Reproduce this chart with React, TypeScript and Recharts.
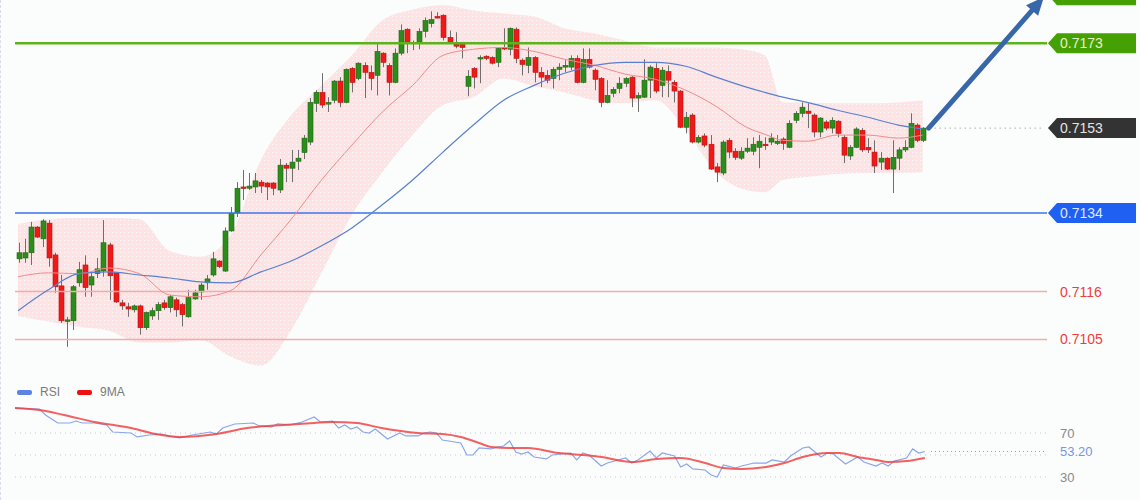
import React from "react";
import { Area, Bar, ComposedChart, Line, ReferenceLine, XAxis, YAxis } from "recharts";

// OHLC candles, oldest first
const candleOpen = [
  0.71235, 0.71237, 0.71249, 0.71308, 0.71281, 0.71317, 0.71244, 0.71173, 0.71093, 0.71093,
  0.7118, 0.71221, 0.71175, 0.71201, 0.71207, 0.71267, 0.71203, 0.71134, 0.71125, 0.71118,
  0.71127, 0.71077, 0.71104, 0.71116, 0.71134, 0.71123, 0.71141, 0.7113, 0.71102, 0.71143,
  0.71159, 0.7118, 0.71198, 0.7123, 0.71207, 0.71299, 0.7134, 0.714, 0.71397, 0.714,
  0.71411, 0.71409, 0.71409, 0.71393, 0.7145, 0.71443, 0.71459, 0.71479, 0.71503, 0.71592,
  0.71617, 0.7159, 0.71599, 0.71643, 0.71594, 0.71672, 0.71649, 0.71679, 0.71663, 0.71656,
  0.71707, 0.71679, 0.7164, 0.71707, 0.71762, 0.71732, 0.7173, 0.71757, 0.71775, 0.71791,
  0.71794, 0.71743, 0.7173, 0.71727, 0.71631, 0.71672, 0.71695, 0.717, 0.71697, 0.71686,
  0.7172, 0.71716, 0.71762, 0.71691, 0.71679, 0.71697, 0.71663, 0.71656, 0.71649, 0.7167,
  0.71675, 0.71675, 0.71695, 0.7164, 0.71693, 0.71668, 0.71649, 0.71594, 0.71615, 0.71626,
  0.71638, 0.71652, 0.71604, 0.71606, 0.71645, 0.71672, 0.71633, 0.71665, 0.7164, 0.7162,
  0.71537, 0.71565, 0.71503, 0.71517, 0.71498, 0.71446, 0.71432, 0.71507, 0.71482, 0.71466,
  0.71482, 0.71482, 0.71491, 0.71498, 0.71503, 0.715, 0.7151, 0.71491, 0.71553, 0.71569,
  0.71574, 0.71565, 0.71526, 0.71549, 0.71535, 0.71551, 0.71514, 0.71471, 0.71491, 0.7153,
  0.71491, 0.7148, 0.71457, 0.71466, 0.71441, 0.71466, 0.71485, 0.71491, 0.71542, 0.71507,
];
const candleHigh = [
  0.71272, 0.71281, 0.7132, 0.7131, 0.71326, 0.71324, 0.71249, 0.71198, 0.71102, 0.71175,
  0.71228, 0.71243, 0.71203, 0.71237, 0.71324, 0.71272, 0.71205, 0.71141, 0.71134, 0.7113,
  0.7113, 0.71114, 0.71123, 0.71136, 0.71141, 0.71152, 0.71146, 0.71134, 0.71164, 0.71164,
  0.7118, 0.71198, 0.71251, 0.71232, 0.71307, 0.71354, 0.71411, 0.71439, 0.71432, 0.71432,
  0.71416, 0.71411, 0.71411, 0.71464, 0.71455, 0.71485, 0.71485, 0.71519, 0.71604, 0.71622,
  0.71661, 0.71606, 0.71645, 0.71652, 0.71672, 0.71675, 0.71686, 0.71686, 0.71679, 0.7173,
  0.71709, 0.71684, 0.71718, 0.71773, 0.71764, 0.71736, 0.71764, 0.71789, 0.71803, 0.71801,
  0.71796, 0.71759, 0.71755, 0.71732, 0.71668, 0.71675, 0.71702, 0.71702, 0.717, 0.7172,
  0.71764, 0.71766, 0.71766, 0.71695, 0.7172, 0.717, 0.71675, 0.71668, 0.71675, 0.71684,
  0.71691, 0.71702, 0.71702, 0.71718, 0.71718, 0.71672, 0.71652, 0.71645, 0.71629, 0.71652,
  0.71652, 0.71654, 0.71617, 0.71693, 0.71679, 0.71684, 0.71675, 0.71679, 0.71645, 0.71622,
  0.71572, 0.71569, 0.71519, 0.71523, 0.71519, 0.71455, 0.71507, 0.71512, 0.71489, 0.71491,
  0.71512, 0.71514, 0.71519, 0.71514, 0.71523, 0.71519, 0.71514, 0.71553, 0.71574, 0.71594,
  0.71592, 0.71569, 0.7156, 0.71553, 0.7156, 0.71553, 0.71519, 0.71496, 0.71537, 0.71535,
  0.71512, 0.71507, 0.7148, 0.71468, 0.71507, 0.71491, 0.71507, 0.71569, 0.71546, 0.71537,
];
const candleLow = [
  0.71226, 0.71226, 0.71221, 0.71283, 0.71262, 0.71217, 0.71157, 0.71088, 0.71033, 0.71072,
  0.71171, 0.71148, 0.71148, 0.71191, 0.71194, 0.71141, 0.71134, 0.71118, 0.71102, 0.71112,
  0.71061, 0.71072, 0.71095, 0.71095, 0.71118, 0.71112, 0.71102, 0.7108, 0.711, 0.71141,
  0.71141, 0.71164, 0.71194, 0.71214, 0.71205, 0.71297, 0.71331, 0.7137, 0.71393, 0.71386,
  0.71386, 0.7137, 0.71381, 0.71386, 0.71411, 0.71411, 0.71439, 0.71464, 0.71496, 0.71572,
  0.71581, 0.71572, 0.71592, 0.71583, 0.71592, 0.71617, 0.71645, 0.71604, 0.71622, 0.7161,
  0.71675, 0.7161, 0.71638, 0.71702, 0.71707, 0.71714, 0.71716, 0.71743, 0.71766, 0.71787,
  0.71736, 0.7173, 0.71718, 0.71695, 0.71608, 0.71626, 0.71638, 0.71691, 0.71681, 0.71675,
  0.71714, 0.71702, 0.71684, 0.71656, 0.71661, 0.7164, 0.71629, 0.71638, 0.71626, 0.71645,
  0.71663, 0.71668, 0.71638, 0.71638, 0.71672, 0.71622, 0.71583, 0.71592, 0.71606, 0.71615,
  0.71629, 0.71583, 0.71572, 0.71604, 0.71604, 0.71615, 0.71606, 0.71606, 0.71594, 0.71535,
  0.71523, 0.715, 0.715, 0.71491, 0.71439, 0.71411, 0.71427, 0.71466, 0.71462, 0.71462,
  0.71478, 0.71473, 0.71443, 0.71485, 0.71496, 0.71496, 0.71485, 0.71489, 0.71546, 0.7156,
  0.71535, 0.71514, 0.71514, 0.7153, 0.71523, 0.71514, 0.71455, 0.71462, 0.71489, 0.7148,
  0.71478, 0.71432, 0.71439, 0.71439, 0.71386, 0.71439, 0.7148, 0.71489, 0.71503, 0.71503,
];
const candleClose = [
  0.71249, 0.71249, 0.71308, 0.71285, 0.71322, 0.71237, 0.71171, 0.71093, 0.71095, 0.71171,
  0.7121, 0.71169, 0.71194, 0.71212, 0.71272, 0.71196, 0.71136, 0.71127, 0.7112, 0.71127,
  0.71077, 0.71112, 0.71116, 0.7113, 0.71123, 0.71148, 0.71118, 0.71107, 0.71146, 0.71157,
  0.71175, 0.71189, 0.71235, 0.71217, 0.71299, 0.7134, 0.71397, 0.71397, 0.71402, 0.71414,
  0.71402, 0.714, 0.71397, 0.7145, 0.71443, 0.71457, 0.71466, 0.71512, 0.71594, 0.71617,
  0.71588, 0.71594, 0.71643, 0.71594, 0.7167, 0.7164, 0.71684, 0.71663, 0.71649, 0.71711,
  0.71686, 0.7164, 0.71707, 0.71759, 0.7173, 0.7173, 0.71757, 0.71782, 0.71784, 0.71789,
  0.71743, 0.71732, 0.71723, 0.7172, 0.71654, 0.71652, 0.71697, 0.71695, 0.71684, 0.71718,
  0.71718, 0.71764, 0.71695, 0.71681, 0.71697, 0.71663, 0.71652, 0.71645, 0.7167, 0.71675,
  0.71679, 0.71695, 0.7164, 0.71693, 0.71675, 0.71647, 0.71594, 0.7161, 0.71624, 0.71638,
  0.71649, 0.71604, 0.7161, 0.71645, 0.71675, 0.7162, 0.71668, 0.71645, 0.7162, 0.71537,
  0.7156, 0.71503, 0.71514, 0.71496, 0.71441, 0.71434, 0.71503, 0.7148, 0.71468, 0.71482,
  0.71489, 0.71498, 0.71505, 0.71496, 0.71512, 0.71505, 0.715, 0.71546, 0.71569, 0.71583,
  0.71569, 0.71526, 0.71558, 0.71535, 0.71553, 0.71523, 0.71473, 0.71491, 0.71533, 0.71485,
  0.71485, 0.71448, 0.71466, 0.71441, 0.71468, 0.71485, 0.71491, 0.71546, 0.71507, 0.71535,
];

// bollinger band and moving averages, read at these candle positions
const overlayIdx = [0, 5, 10, 15, 20, 25, 30, 35, 40, 45, 50, 55, 60, 65, 70, 75, 80, 85, 90, 95, 100, 105, 110, 115, 120, 123, 126, 130, 135, 140, 145, 149];
const bbUpper = [
  0.71315, 0.71326, 0.71329, 0.71329, 0.71326, 0.71253, 0.7124, 0.7129, 0.71462, 0.71565, 0.71633,
  0.71702, 0.71782, 0.71807, 0.71817, 0.71805, 0.71798, 0.71791, 0.71764, 0.71752, 0.71736, 0.7172,
  0.7172, 0.7172, 0.71714, 0.71702, 0.71594, 0.71594, 0.71592, 0.71592, 0.71594, 0.71599,
];
const bbLower = [
  0.71104, 0.71091, 0.71079, 0.7107, 0.71043, 0.71043, 0.71049, 0.71011, 0.7099, 0.71072, 0.71203,
  0.71336, 0.71434, 0.71519, 0.71588, 0.71606, 0.71649, 0.71631, 0.71617, 0.71599, 0.71592, 0.71599,
  0.7153, 0.71434, 0.71393, 0.71388, 0.71416, 0.71423, 0.7143, 0.71432, 0.71432, 0.71434,
];
const maFast = [
  0.71194, 0.71203, 0.71201, 0.71214, 0.71201, 0.71152, 0.71148, 0.71162, 0.71244, 0.71326, 0.71416,
  0.71496, 0.71572, 0.71633, 0.71702, 0.71716, 0.7172, 0.71711, 0.71693, 0.71679, 0.71659, 0.71647,
  0.71622, 0.71585, 0.71537, 0.71521, 0.71507, 0.71505, 0.71519, 0.71519, 0.71512, 0.71519,
];
const maSlow = [
  0.71116, 0.71164, 0.71201, 0.71205, 0.71198, 0.71191, 0.71182, 0.7118, 0.71205, 0.7123, 0.71265,
  0.71306, 0.71359, 0.71416, 0.7148, 0.71542, 0.71599, 0.71633, 0.71661, 0.71679, 0.71686, 0.71686,
  0.71677, 0.71652, 0.71629, 0.71617, 0.71606, 0.71594, 0.71576, 0.7156, 0.71542, 0.71533,
];

// RSI panel
const rsiIdx = [
  0, 4, 5, 7, 9, 10, 11, 13, 15, 16, 19, 20, 22, 24, 26, 27, 29, 31, 32, 33, 34, 36, 39, 40, 42, 43, 45, 47, 49, 50,
  52, 53, 54, 55, 56, 57, 58, 59, 61, 63, 64, 66, 67, 68, 69, 70, 72, 73, 74, 75, 76, 78, 79, 80, 81, 82, 83, 84, 85, 87,
  88, 91, 92, 93, 94, 96, 97, 100, 101, 102, 104, 105, 106, 108, 109, 110, 111, 113, 114, 115, 116, 118, 119, 121, 123, 124, 126, 127, 129, 130,
  131, 132, 133, 134, 136, 138, 139, 141, 142, 143, 144, 146, 147, 148, 149,
];
const rsiVal = [
  92.7, 91.8, 86.4, 79.1, 79.1, 80.9, 79.1, 79.1, 77.3, 70.9, 70.0, 66.4, 68.2, 69.1, 66.4, 65.5, 68.2, 70.0, 70.9, 69.1, 74.5, 78.2, 79.1, 76.4, 75.5, 78.2, 77.3, 80.0, 84.5, 80.0,
  80.9, 74.5, 77.3, 73.6, 75.5, 70.9, 70.0, 73.6, 64.5, 70.0, 67.3, 67.3, 70.0, 70.9, 70.0, 63.6, 61.8, 60.9, 50.0, 50.0, 56.4, 55.5, 57.3, 58.2, 62.7, 52.7, 50.9, 52.7, 48.2, 46.4,
  50.0, 51.8, 45.5, 51.8, 50.0, 40.0, 42.7, 47.3, 42.7, 45.5, 53.6, 47.3, 51.8, 49.1, 39.1, 41.8, 37.3, 36.4, 31.8, 30.0, 40.9, 38.2, 40.0, 42.7, 42.7, 45.5, 43.6, 49.1, 56.4, 57.3,
  52.7, 48.2, 51.8, 50.9, 41.8, 48.2, 43.6, 40.0, 42.7, 40.0, 44.5, 47.3, 55.5, 51.8, 53.2,
];
const ma9Idx = [0, 4, 8, 13, 19, 23, 27, 33, 38, 44, 49, 52, 56, 60, 66, 70, 73, 76, 78, 81, 84, 89, 93, 96, 101, 105, 109, 113, 116, 119, 123, 126, 129, 133, 135, 138, 141, 143, 146, 149];
const ma9Val = [
  92.7, 90.9, 86.4, 80.0, 74.5, 69.1, 66.4, 69.1, 74.5, 77.3, 79.1, 80.0, 79.1, 74.5, 70.0, 69.1, 66.4, 60.9, 57.3, 56.4,
  56.4, 51.8, 50.0, 48.2, 43.6, 46.4, 47.3, 42.7, 38.2, 37.3, 39.1, 42.7, 48.2, 51.8, 51.8, 48.2, 45.5, 43.6, 44.5, 47.3,
];

// price levels
const resistance = 0.7173;
const target = 0.7184; // tag above the visible area, only its lower edge shows
const lastPrice = 0.71535;
const support = 0.7134;
const support2 = 0.7116;
const support3 = 0.7105;

const SLOTS = 170; // candles plus empty room on the right for the labels
const FONT = "'Liberation Sans', Arial, sans-serif";

const rows: any[] = Array.from({ length: SLOTS }, (_, i) => ({
  i,
  open: candleOpen[i] ?? null,
  high: candleHigh[i] ?? null,
  low: candleLow[i] ?? null,
  close: candleClose[i] ?? null,
}));
overlayIdx.forEach((k, j) => {
  rows[k].band = [bbLower[j], bbUpper[j]];
  rows[k].maFast = maFast[j];
  rows[k].maSlow = maSlow[j];
});

const rsiRows: any[] = Array.from({ length: SLOTS }, (_, i) => ({ i }));
rsiIdx.forEach((k, j) => (rsiRows[k].rsi = rsiVal[j]));
ma9Idx.forEach((k, j) => (rsiRows[k].ma9 = ma9Val[j]));

const Candle = (props: any) => {
  const { x, y, width, height, payload } = props;
  if (!payload || payload.open == null) return null;
  const top = Math.min(y, y + height);
  const h = Math.abs(height);
  const range = payload.high - payload.low;
  const k = range > 0 ? h / range : 0;
  const yOf = (v: number) => top + (payload.high - v) * k;
  const cx = Math.round(x + width / 2);
  const up = payload.close >= payload.open;
  const bTop = yOf(Math.max(payload.open, payload.close));
  const bBot = yOf(Math.min(payload.open, payload.close));
  return (
    <g>
      <line x1={cx + 0.5} x2={cx + 0.5} y1={top} y2={top + h} stroke="#6e6e6e" strokeWidth={1} />
      <rect
        x={cx - 2}
        y={bTop}
        width={5}
        height={Math.max(1.5, bBot - bTop)}
        fill={up ? "#2c8c1c" : "#ee1a1a"}
        stroke={up ? "#1f6a12" : "#c01010"}
        strokeWidth={0.6}
      />
    </g>
  );
};

const PriceTag = ({ viewBox, text, fill, color }: any) => {
  if (!viewBox) return null;
  const x = viewBox.x + viewBox.width + 1;
  const y = viewBox.y;
  return (
    <g>
      <polygon points={`${x},${y} ${x + 9},${y - 10} ${x + 88},${y - 10} ${x + 88},${y + 10} ${x + 9},${y + 10}`} fill={fill} />
      {text ? (
        <text x={x + 12} y={y + 5} fill={color} fontSize={14} fontFamily={FONT}>
          {text}
        </text>
      ) : null}
    </g>
  );
};

const SideText = ({ viewBox, text, color, size }: any) => {
  if (!viewBox) return null;
  return (
    <text x={viewBox.x + viewBox.width + 13} y={viewBox.y + 5} fill={color} fontSize={size} fontFamily={FONT}>
      {text}
    </text>
  );
};

const Arrow = (p: any) => {
  const { x1, y1, x2, y2 } = p;
  if (x1 == null) return null;
  const dx = x2 - x1;
  const dy = y2 - y1;
  const len = Math.hypot(dx, dy) || 1;
  const ux = dx / len;
  const uy = dy / len;
  const bx = x2 - ux * 18;
  const by = y2 - uy * 18;
  const px = -uy * 8;
  const py = ux * 8;
  return (
    <g>
      <line x1={x1} y1={y1} x2={bx} y2={by} stroke="#3767a9" strokeWidth={5} strokeLinecap="round" />
      <polygon points={`${x2},${y2} ${bx + px},${by + py} ${bx - px},${by - py}`} fill="#3767a9" />
    </g>
  );
};

const legendText: React.CSSProperties = { fontSize: 12, color: "#7a7a7a", marginRight: 17 };
const swatch = (c: string): React.CSSProperties => ({
  display: "inline-block",
  width: 15,
  height: 5,
  borderRadius: 2,
  background: c,
  marginRight: 8,
});

export default function App() {
  return (
    <div
      style={{
        position: "absolute",
        left: 0,
        top: 0,
        width: 1140,
        height: 500,
        background: "#fbfcfc",
        fontFamily: FONT,
        overflow: "hidden",
      }}
    >
      <div style={{ position: "absolute", left: 0, top: 0, width: 0, height: 500, borderLeft: "1px dashed #d9dcea" }} />
      <div style={{ position: "absolute", left: 0, top: 0 }}>
        <ComposedChart width={1140} height={380} data={rows} margin={{ top: 0, right: 93, bottom: 0, left: 15 }}>
          <defs>
            <pattern id="bbDots" width="4" height="4" patternUnits="userSpaceOnUse">
              <rect width="4" height="4" fill="#fde3e3" />
              <rect x="0" y="0" width="1" height="1" fill="#fff8f8" />
            </pattern>
          </defs>
          <XAxis dataKey="i" type="category" hide />
          <YAxis type="number" domain={[0.70957, 0.71829]} allowDataOverflow hide />
          <Area
            dataKey="band"
            type="monotone"
            connectNulls
            stroke="none"
            fill="url(#bbDots)"
            fillOpacity={1}
            isAnimationActive={false}
            activeDot={false}
          />
          <ReferenceLine
            y={resistance}
            stroke="#5cb31c"
            strokeWidth={2.5}
            label={(p: any) => <PriceTag {...p} text="0.7173" fill="#44a003" color="#e6f2c4" />}
          />
          <ReferenceLine
            y={target}
            stroke="none"
            ifOverflow="visible"
            label={(p: any) => <PriceTag {...p} fill="#44a003" />}
          />
          <ReferenceLine
            y={support}
            stroke="#3d74ea"
            strokeWidth={1.5}
            label={(p: any) => <PriceTag {...p} text="0.7134" fill="#1f60f2" color="#dfe8ff" />}
          />
          <ReferenceLine
            y={support2}
            stroke="#f7aaaa"
            strokeWidth={1.5}
            label={(p: any) => <SideText {...p} text="0.7116" color="#f03c3c" size={14} />}
          />
          <ReferenceLine
            y={support3}
            stroke="#f7aaaa"
            strokeWidth={1.5}
            label={(p: any) => <SideText {...p} text="0.7105" color="#f03c3c" size={14} />}
          />
          <ReferenceLine
            y={lastPrice}
            stroke="none"
            label={(p: any) => <PriceTag {...p} text="0.7153" fill="#333333" color="#e4e4e4" />}
          />
          <ReferenceLine
            segment={[
              { x: 151, y: lastPrice },
              { x: 169, y: lastPrice },
            ]}
            stroke="#8a8a8a"
            strokeDasharray="1 4"
          />
          <Line dataKey="maFast" type="monotone" connectNulls stroke="#f28b8b" strokeWidth={1} dot={false} activeDot={false} isAnimationActive={false} />
          <Line dataKey="maSlow" type="monotone" connectNulls stroke="#5b80cf" strokeWidth={1.2} dot={false} activeDot={false} isAnimationActive={false} />
          <Bar
            dataKey={(d: any) => (d.high == null ? null : [d.low, d.high])}
            barSize={5}
            shape={Candle}
            isAnimationActive={false}
          />
          <ReferenceLine
            segment={[
              { x: 150, y: lastPrice },
              { x: 169, y: 0.71836 },
            ]}
            ifOverflow="visible"
            shape={Arrow}
          />
        </ComposedChart>
      </div>

      <div style={{ position: "absolute", left: 17, top: 385, display: "flex", alignItems: "center", height: 14 }}>
        <span style={swatch("#5b83e2")} />
        <span style={legendText}>RSI</span>
        <span style={swatch("#ee1111")} />
        <span style={legendText}>9MA</span>
      </div>

      <div style={{ position: "absolute", left: 0, top: 400 }}>
        <ComposedChart width={1140} height={100} data={rsiRows} margin={{ top: 0, right: 93, bottom: 0, left: 15 }}>
          <XAxis dataKey="i" type="category" hide />
          <YAxis type="number" domain={[9.0909, 100]} allowDataOverflow hide />
          <ReferenceLine
            y={70}
            stroke="#c6c9d2"
            strokeDasharray="1 4"
            label={(p: any) => <SideText {...p} text="70" color="#8a8a8a" size={13} />}
          />
          <ReferenceLine y={50} stroke="#c6c9d2" strokeDasharray="1 4" />
          <ReferenceLine
            y={30}
            stroke="#c6c9d2"
            strokeDasharray="1 4"
            label={(p: any) => <SideText {...p} text="30" color="#8a8a8a" size={13} />}
          />
          <ReferenceLine
            segment={[
              { x: 150, y: 53.2 },
              { x: 169, y: 53.2 },
            ]}
            stroke="#7b9be6"
            strokeDasharray="1 3"
          />
          <ReferenceLine
            y={53.2}
            stroke="none"
            label={(p: any) => <SideText {...p} text="53.20" color="#7896e2" size={13} />}
          />
          <Line dataKey="rsi" type="linear" connectNulls stroke="#8aa6ea" strokeWidth={1.2} dot={false} activeDot={false} isAnimationActive={false} />
          <Line dataKey="ma9" type="monotone" connectNulls stroke="#f03a3a" strokeOpacity={0.8} strokeWidth={2} dot={false} activeDot={false} isAnimationActive={false} />
        </ComposedChart>
      </div>
    </div>
  );
}
